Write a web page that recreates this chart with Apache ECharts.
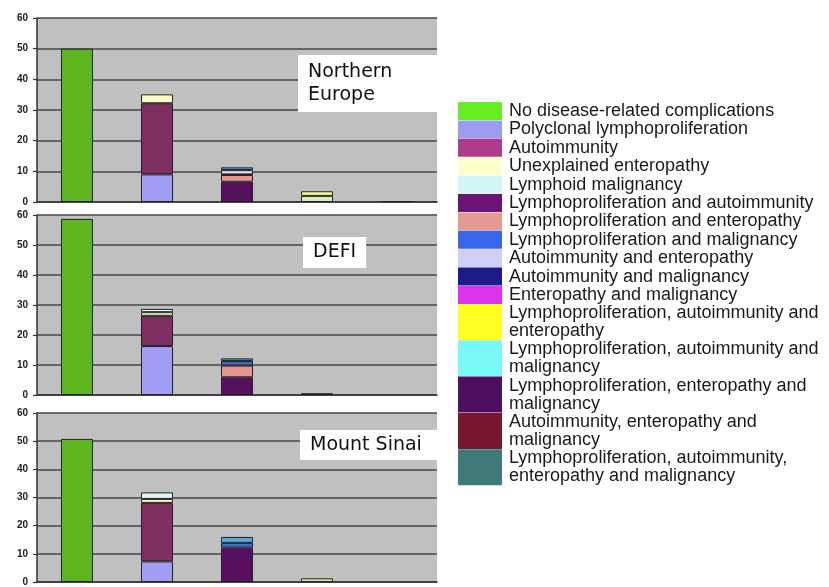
<!DOCTYPE html>
<html>
<head>
<meta charset="utf-8">
<script src="https://cdn.jsdelivr.net/npm/echarts@6/dist/echarts.min.js"></script>
<style>
html,body{margin:0;padding:0;background:#fff;}
#chart{width:829px;height:587px;}
</style>
</head>
<body>
<div id="chart"></div>
<script>
// ---- data ----
const categories = ['None', 'One', 'Two', 'Three', 'Four'];
const panelTitles = ['Northern\nEurope', 'DEFI', 'Mount Sinai'];
const yMin = 0, yMax = 60, yInterval = 10;

const seriesNames = [
  'No disease-related complications',
  'Polyclonal lymphoproliferation',
  'Autoimmunity',
  'Unexplained enteropathy',
  'Lymphoid malignancy',
  'Lymphoproliferation and autoimmunity',
  'Lymphoproliferation and enteropathy',
  'Lymphoproliferation and malignancy',
  'Autoimmunity and enteropathy',
  'Autoimmunity and malignancy',
  'Enteropathy and malignancy',
  'Lymphoproliferation, autoimmunity and enteropathy',
  'Lymphoproliferation, autoimmunity and malignancy',
  'Lymphoproliferation, enteropathy and malignancy',
  'Autoimmunity, enteropathy and malignancy',
  'Lymphoproliferation, autoimmunity, enteropathy and malignancy'
];
const wrappedNames = [
  'Lymphoproliferation, autoimmunity and\nenteropathy',
  'Lymphoproliferation, autoimmunity and\nmalignancy',
  'Lymphoproliferation, enteropathy and\nmalignancy',
  'Autoimmunity, enteropathy and\nmalignancy',
  'Lymphoproliferation, autoimmunity,\nenteropathy and malignancy'
];

// values per panel: [Northern Europe, DEFI, Mount Sinai], each over categories
const noDisease      = [[50, 0, 0, 0, 0], [58.7, 0, 0, 0, 0], [50.8, 0, 0, 0, 0]];
const polyclonal     = [[0, 9, 0, 0, 0], [0, 16.3, 0, 0, 0], [0, 7.3, 0, 0, 0]];
const autoimmunity   = [[0, 23.2, 0, 0, 0], [0, 10.1, 0, 0, 0], [0, 20.8, 0, 0, 0]];
const unexplainedEnt = [[0, 2.9, 0, 0, 0], [0, 1.2, 0, 0, 0], [0, 1.4, 0, 0, 0]];
const lymphoidMalig  = [[0, 0, 0, 0, 0], [0, 1.1, 0, 0, 0], [0, 2.3, 0, 0, 0]];
const lpAi           = [[0, 0, 6.6, 0, 0], [0, 0, 5.9, 0, 0], [0, 0, 12.2, 0, 0]];
const lpEnt          = [[0, 0, 2.2, 0, 0], [0, 0, 3.9, 0, 0], [0, 0, 0, 0, 0]];
const lpMalig        = [[0, 0, 0.2, 0, 0], [0, 0, 1.5, 0, 0], [0, 0, 1.7, 0, 0]];
const aiEnt          = [[0, 0, 1.4, 0, 0], [0, 0, 0, 0, 0], [0, 0, 0, 0, 0]];
const aiMalig        = [[0, 0, 0.9, 0, 0], [0, 0, 0.9, 0, 0], [0, 0, 2.1, 0, 0]];
const entMalig       = [[0, 0, 0, 0, 0], [0, 0, 0, 0, 0], [0, 0, 0, 0, 0]];
const lpAiEnt        = [[0, 0, 0, 1.5, 0], [0, 0, 0, 0, 0], [0, 0, 0, 0, 0]];
const lpAiMalig      = [[0, 0, 0, 2.0, 0], [0, 0, 0, 0.6, 0], [0, 0, 0, 1.3, 0]];
const lpEntMalig     = [[0, 0, 0, 0, 0], [0, 0, 0, 0, 0], [0, 0, 0, 0, 0]];
const aiEntMalig     = [[0, 0, 0, 0, 0], [0, 0, 0, 0, 0], [0, 0, 0, 0, 0]];
const allFour        = [[0, 0, 0, 0, 0.3], [0, 0, 0, 0, 0], [0, 0, 0, 0, 0]];

const seriesValues = [noDisease, polyclonal, autoimmunity, unexplainedEnt, lymphoidMalig,
  lpAi, lpEnt, lpMalig, aiEnt, aiMalig, entMalig, lpAiEnt, lpAiMalig, lpEntMalig, aiEntMalig, allFour];

// ---- styles ----
const stackOrder = [0, 1, 2, 3, 4, 5, 6, 7, 8, 9, 10, 12, 11, 13, 14, 15];
const barColors = ['#5db51f', '#a29ef6', '#7d2f60', '#fdfdc6', '#e2f8f6', '#57105f', '#e89590',
  '#3f68c8', '#d9d9f6', '#5aa9dc', '#dd33ee', '#fafa98', '#d6f0c4', '#4d0e60', '#7a1530', '#3d7a78'];
const legendColors = ['#66ee22', '#9c9cf0', '#b03a8c', '#ffffcc', '#d2f7f7', '#6a1575', '#e39a92',
  '#3a66ee', '#cfcff7', '#1c1c8a', '#dd33ee', '#ffff22', '#7af7f7', '#4d0e60', '#7a1530', '#3d7a78'];
const grids = [
  {left: 37, top: 18, width: 400, height: 184},
  {left: 37, top: 215, width: 400, height: 180},
  {left: 37, top: 413, width: 400, height: 173}
];
const titleBoxes = [
  {left: 298, top: 55, padding: [6, 45, 5, 10]},
  {left: 303, top: 237, padding: [4, 10, 4, 10]},
  {left: 300, top: 430, padding: [4, 16, 3, 10]}
];

const FONT = 'Liberation Sans, Arial, sans-serif';
const chart = echarts.init(document.getElementById('chart'), null, {renderer: 'canvas'});

const option = {
  animation: false,
  backgroundColor: '#ffffff',
  title: panelTitles.map((t, i) => ({
    text: t,
    left: titleBoxes[i].left,
    top: titleBoxes[i].top,
    padding: titleBoxes[i].padding,
    backgroundColor: '#ffffff',
    textStyle: {fontFamily: 'DejaVu Sans, sans-serif', fontSize: 19, fontWeight: 'normal', color: '#111', lineHeight: 23}
  })),
  grid: grids.map(g => Object.assign({show: true, backgroundColor: '#c0c0c0', borderWidth: 0, containLabel: false}, g)),
  xAxis: grids.map((g, i) => ({
    type: 'category', gridIndex: i, data: categories,
    axisLine: {show: true, lineStyle: {color: '#333', width: 1.5}},
    axisTick: {show: false}, axisLabel: {show: false}, splitLine: {show: false}
  })),
  yAxis: grids.map((g, i) => ({
    type: 'value', gridIndex: i, min: yMin, max: yMax, interval: yInterval,
    axisLine: {show: true, lineStyle: {color: '#333', width: 1.5}},
    axisTick: {show: true, length: 4, lineStyle: {color: '#333', width: 1.2}},
    axisLabel: {fontFamily: FONT, fontSize: 10, fontWeight: 'bold', color: '#222', margin: 9},
    splitLine: {show: true, lineStyle: {color: '#474747', width: 1.5}}
  })),
  legend: [
    {
      orient: 'vertical', left: 458, top: 102, padding: 0, itemWidth: 44, itemHeight: 18, itemGap: 0.4,
      selectedMode: false, icon: 'rect',
      data: seriesNames.slice(0, 11).map((n, k) => ({name: n, itemStyle: {color: legendColors[k], borderWidth: 0}})),
      textStyle: {fontFamily: FONT, fontSize: 18, color: '#1a1a1a', lineHeight: 18, padding: [0, 0, 0, 2]}
    },
    {
      orient: 'vertical', left: 458, top: 304, padding: 0, itemWidth: 44, itemHeight: 36, itemGap: 0.3,
      selectedMode: false, icon: 'rect',
      data: seriesNames.slice(11).map((n, k) => ({name: n, itemStyle: {color: legendColors[11 + k], borderWidth: 0}})),
      formatter: name => wrappedNames[seriesNames.indexOf(name) - 11] || name,
      textStyle: {fontFamily: FONT, fontSize: 18, color: '#1a1a1a', lineHeight: 18, padding: [0, 0, 0, 2]}
    }
  ],
  series: []
};

for (let p = 0; p < 3; p++) {
  stackOrder.forEach(k => {
    option.series.push({
      type: 'bar',
      name: seriesNames[k],
      xAxisIndex: p, yAxisIndex: p,
      stack: 'panel' + p,
      barWidth: 32,
      data: seriesValues[k][p].map(v => v === 0 ? '-' : v),
      itemStyle: {color: barColors[k], borderColor: '#222', borderWidth: 1}
    });
  });
}

chart.setOption(option);
</script>
</body>
</html>
